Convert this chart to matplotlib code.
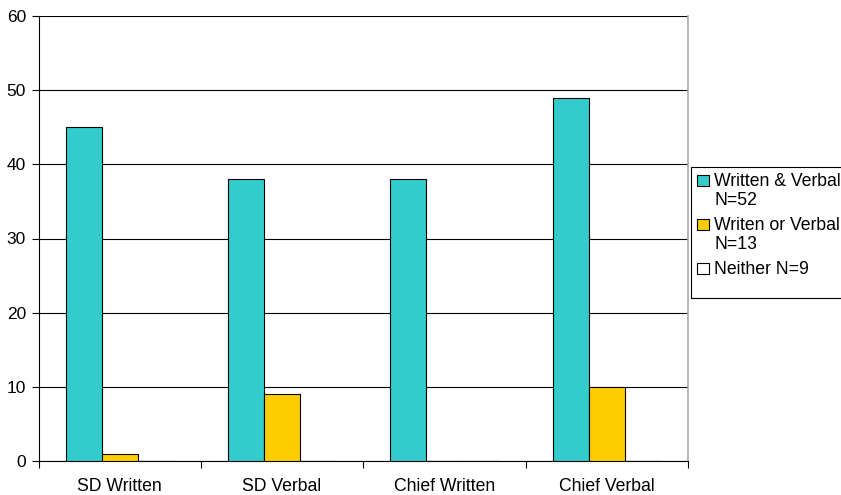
#!/usr/bin/env python3
"""Grouped bar chart: written / verbal communication counts."""

import numpy as np
import matplotlib
matplotlib.use("Agg")
import matplotlib.pyplot as plt
from matplotlib.patches import Rectangle
from matplotlib.ticker import FixedLocator

plt.rcParams["font.family"] = ["Liberation Sans", "DejaVu Sans"]

categories = ["SD Written", "SD Verbal", "Chief Written", "Chief Verbal"]
series_labels = ["Written & Verbal\nN=52", "Writen or Verbal\nN=13", "Neither N=9"]
both_vals = [45, 38, 38, 49]
either_vals = [1, 9, 0, 10]
neither_vals = [0, 0, 0, 0]
y_ticks = [0, 10, 20, 30, 40, 50, 60]

TEAL = "#33CCCC"
GOLD = "#FFCC00"
W, H = 841, 495
FS = 12.7


def px(x, y):
    """pixel position (from top-left) -> figure fraction"""
    return x / W, 1 - y / H


def main():
    fig = plt.figure(figsize=(W / 100, H / 100), dpi=100)
    ax = fig.add_axes([38.5 / W, 1 - 461 / H, (688 - 38.5) / W, (461 - 16) / H])

    x = np.arange(len(categories))
    w = 0.222
    series = [both_vals, either_vals, neither_vals]
    colors = [TEAL, GOLD, "white"]
    for i, (vals, c) in enumerate(zip(series, colors)):
        ax.bar(x + (i - 1) * w, vals, w, color=c, edgecolor="black", linewidth=0.8, zorder=3)

    ax.set_xlim(-0.5, len(categories) - 0.5)
    ax.set_ylim(0, 60)
    ax.set_yticks(y_ticks)
    ax.yaxis.grid(True, color="black", linewidth=0.8, zorder=0)
    ax.set_axisbelow(True)

    ax.set_xticks(x)
    ax.set_xticklabels(categories)
    ax.xaxis.set_minor_locator(FixedLocator(np.arange(len(categories) + 1) - 0.5))
    ax.tick_params(axis="x", which="major", length=0, pad=12.5, labelsize=FS)
    ax.tick_params(axis="x", which="minor", length=5, width=0.8, direction="out")
    ax.tick_params(axis="y", length=5, width=0.8, direction="out", labelsize=12.5, pad=4)

    ax.spines["top"].set_visible(False)
    ax.spines["right"].set_color("#aaaaaa")
    ax.spines["right"].set_linewidth(1.2)
    for s in ("left", "bottom"):
        ax.spines[s].set_color("black")
        ax.spines[s].set_linewidth(0.8)

    # legend laid out by hand: frame runs off the right edge, swatch sits on first line
    x0, y0 = px(690.5, 298)
    fig.patches.append(Rectangle((x0, y0), 160 / W, 131 / H, transform=fig.transFigure,
                                 fill=False, edgecolor="black", linewidth=0.8))
    baselines = [186, 230, 274]
    for lab, c, base in zip(series_labels, colors, baselines):
        sx, sy = px(697, base)
        fig.patches.append(Rectangle((sx, sy), 12 / W, 11 / H, transform=fig.transFigure,
                                     facecolor=c, edgecolor="black", linewidth=0.8))
        for j, line in enumerate(lab.split("\n")):
            tx, ty = px(714, base + 19 * j)
            fig.text(tx, ty, line, fontsize=FS, va="baseline", ha="left")

    fig.savefig("out.png", dpi=100)
    plt.close(fig)


if __name__ == "__main__":
    main()
